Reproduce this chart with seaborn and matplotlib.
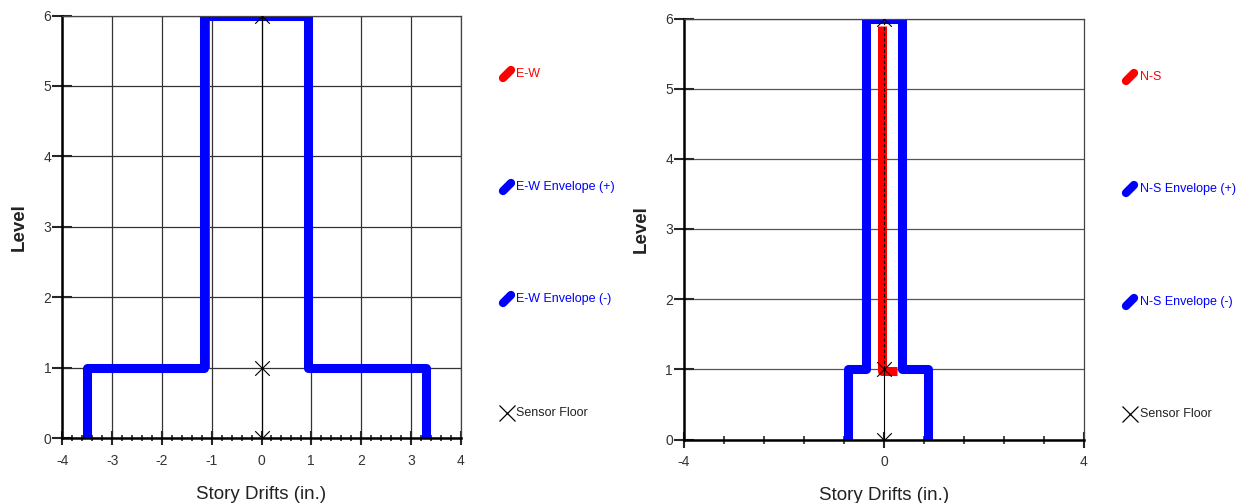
import numpy as np
import seaborn as sns
import matplotlib.pyplot as plt
from matplotlib.lines import Line2D
from matplotlib.ticker import MultipleLocator, FixedLocator

# ---- data ----
ENV_LEVELS = [0, 1, 1, 6, 6]

EW_NEG_X = [-3.5, -3.5, -1.15, -1.15, 0]
EW_POS_X = [3.31, 3.31, 0.94, 0.94, 0]
EW_X = [-1.13, -1.13]
EW_Y = [1, 6]

NS_NEG_X = [-0.72, -0.72, -0.36, -0.36, 0]
NS_POS_X = [0.88, 0.88, 0.35, 0.35, 0]
NS_X = [0.25, -0.04, -0.04]
NS_Y = [0.98, 0.98, 5.9]

SENSOR_X = [0, 0, 0]
SENSOR_Y = [0, 1, 6]

EW_LABELS = ["E-W", "E-W Envelope (+)", "E-W Envelope (-)", "Sensor Floor"]
NS_LABELS = ["N-S", "N-S Envelope (+)", "N-S Envelope (-)", "Sensor Floor"]

BLUE = "#0000ff"
RED = "#ff0000"
W, H = 1243, 503

sns.set_style("white")
plt.rcParams['font.family'] = ['Liberation Sans', 'DejaVu Sans']
plt.rcParams['axes.unicode_minus'] = False

fig = plt.figure(figsize=(W / 100, H / 100), dpi=100)


def px_box(x0, x1, y0, y1):
    # pixel box (from top-left) -> figure rect
    return [x0 / W, (H - y1) / H, (x1 - x0) / W, (y1 - y0) / H]


def draw_panel(ax, red_x, red_y, neg_x, pos_x, vgrid):
    lw = 6.5
    sns.lineplot(x=red_x, y=red_y, sort=False, estimator=None, ax=ax, color=RED,
                 linewidth=lw, solid_joinstyle='round', solid_capstyle='butt', legend=False)
    for xs in (neg_x, pos_x):
        sns.lineplot(x=xs, y=ENV_LEVELS, sort=False, estimator=None, ax=ax, color=BLUE,
                     linewidth=lw, solid_joinstyle='round', solid_capstyle='butt', legend=False)
    # sensor line + markers
    ax.plot(SENSOR_X[:2], SENSOR_Y[:2], color='black', lw=0.8)
    ax.plot(SENSOR_X[1:], SENSOR_Y[1:], color='black', lw=0.8,
            ls='-' if vgrid else (0, (3, 2)))
    sns.scatterplot(x=SENSOR_X, y=SENSOR_Y, ax=ax, marker='x', s=110, color='black',
                    linewidths=0.8, legend=False, zorder=5)

    ax.set_xlim(-4, 4)
    ax.set_ylim(0, 6)
    ax.set_yticks(range(7))
    ax.tick_params(axis='y', direction='inout', length=14, width=1.5,
                   labelsize=10, labelcolor='#333333', pad=1, left=True)
    ax.tick_params(axis='x', which='both', bottom=True, labelsize=10,
                   labelcolor='#333333')

    ax.yaxis.grid(True, color='#333333' if vgrid else '#555555', lw=0.9)
    if vgrid:
        ax.xaxis.set_major_locator(MultipleLocator(1))
        ax.xaxis.set_minor_locator(MultipleLocator(0.2))
        ax.xaxis.grid(True, which='major', color='#333333', lw=0.9)
        ax.tick_params(axis='x', which='major', direction='inout', length=10, width=1.5, pad=6)
        ax.tick_params(axis='x', which='minor', direction='inout', length=4, width=1.2)
    else:
        ax.xaxis.set_major_locator(FixedLocator([-4, 0, 4]))
        ax.xaxis.set_minor_locator(MultipleLocator(0.8))
        ax.tick_params(axis='x', which='major', direction='inout', length=12, width=1.5, pad=5)
        ax.tick_params(axis='x', which='minor', direction='inout', length=6, width=1.2)
    ax.set_axisbelow(True)

    for side in ('left', 'bottom'):
        ax.spines[side].set_linewidth(1.8)
        ax.spines[side].set_color('black')
    for side in ('top', 'right'):
        ax.spines[side].set_linewidth(0.9)
        ax.spines[side].set_color('#444444')

    ax.set_xlabel("Story Drifts (in.)", fontsize=13.5, color='#222222', labelpad=13)
    ax.set_ylabel("Level", fontsize=13.5, fontweight='bold', color='#222222', labelpad=11)


def draw_legend(labels, mx, tx, ys):
    colors = [RED, BLUE, BLUE, 'black']
    for lab, col, y in zip(labels, colors, ys):
        yf = (H - y) / H
        if lab == "Sensor Floor":
            fig.add_artist(Line2D([mx / W], [yf], marker='x', markersize=11, mew=0.9,
                                  color='black', transform=fig.transFigure))
        else:
            fig.add_artist(Line2D([(mx - 4) / W, (mx + 4) / W], [yf - 4 / H, yf + 4 / H],
                                  lw=6, color=col, solid_capstyle='round',
                                  transform=fig.transFigure))
        fig.text(tx / W, yf, lab, fontsize=9, color=col if col != 'black' else '#222222',
                 ha='left', va='center')


ax1 = fig.add_axes(px_box(62.3, 460.7, 15.5, 438.3))
ax2 = fig.add_axes(px_box(684, 1084, 18.5, 439.5))

draw_panel(ax1, EW_X, EW_Y, EW_NEG_X, EW_POS_X, vgrid=True)
draw_panel(ax2, NS_X, NS_Y, NS_NEG_X, NS_POS_X, vgrid=False)

draw_legend(EW_LABELS, 507, 516, [74, 187, 299, 413])
draw_legend(NS_LABELS, 1130, 1140, [77, 189, 302, 414])

fig.savefig("out.png", dpi=100)
